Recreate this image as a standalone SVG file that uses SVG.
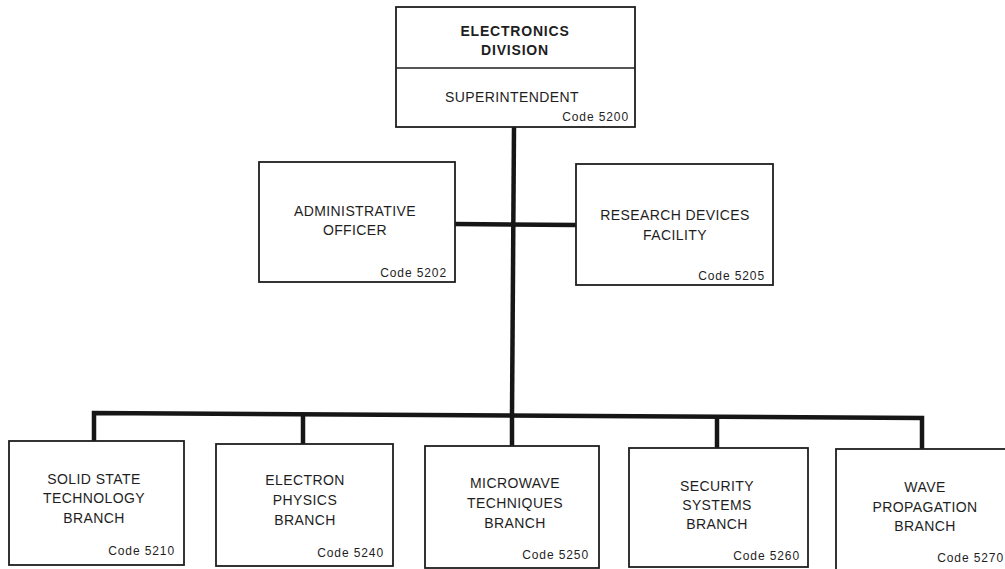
<svg xmlns="http://www.w3.org/2000/svg" width="1005" height="569" viewBox="0 0 1005 569">
<style>
.box{fill:#fff;stroke:#1e1e1e;stroke-width:1.8}
.lbl{font-family:"Liberation Sans",Arial,sans-serif;font-size:14px;fill:#1e1e1e;text-anchor:middle;letter-spacing:0.4px}
.ttl{font-family:"Liberation Sans",Arial,sans-serif;font-size:14px;font-weight:bold;fill:#1e1e1e;text-anchor:middle;letter-spacing:0.8px}
.code{font-family:"Liberation Sans",Arial,sans-serif;font-size:12px;fill:#1e1e1e;text-anchor:end;letter-spacing:0.9px}
.conn{fill:none;stroke:#161616;stroke-width:4.5;stroke-linejoin:miter}
</style>
<rect width="1005" height="569" fill="#fff"/>
<g id="connectors">
<path class="conn" d="M514,127 L512,415"/>
<path class="conn" d="M455,224 L576,225"/>
<path class="conn" d="M94,442 V413 L922,418 V449"/>
<path class="conn" d="M303,414 V444"/>
<path class="conn" d="M717,417 V448"/>
<path class="conn" d="M512,415 V446"/>
</g>
<g id="division">
<rect class="box" x="396" y="7" width="239" height="120"/>
<line x1="396" y1="68" x2="635" y2="68" stroke="#1e1e1e" stroke-width="1.4"/>
<text class="ttl" x="515" y="36">ELECTRONICS</text>
<text class="ttl" x="515" y="55">DIVISION</text>
<text class="lbl" x="512" y="102">SUPERINTENDENT</text>
<text class="code" x="629" y="121">Code 5200</text>
</g>
<g id="admin">
<rect class="box" x="259" y="162" width="196" height="120"/>
<text class="lbl" x="355" y="216">ADMINISTRATIVE</text>
<text class="lbl" x="355" y="235">OFFICER</text>
<text class="code" x="447" y="277">Code 5202</text>
</g>
<g id="research">
<rect class="box" x="576" y="164" width="197" height="121"/>
<text class="lbl" x="675" y="220">RESEARCH DEVICES</text>
<text class="lbl" x="675" y="240">FACILITY</text>
<text class="code" x="765" y="280">Code 5205</text>
</g>
<g id="solidstate">
<rect class="box" x="9" y="441" width="175" height="124"/>
<text class="lbl" x="94" y="484">SOLID STATE</text>
<text class="lbl" x="94" y="503">TECHNOLOGY</text>
<text class="lbl" x="94" y="523">BRANCH</text>
<text class="code" x="175" y="555">Code 5210</text>
</g>
<g id="electron">
<rect class="box" x="216" y="444" width="177" height="122"/>
<text class="lbl" x="305" y="485">ELECTRON</text>
<text class="lbl" x="305" y="505">PHYSICS</text>
<text class="lbl" x="305" y="525">BRANCH</text>
<text class="code" x="384" y="557">Code 5240</text>
</g>
<g id="microwave">
<rect class="box" x="425" y="446" width="174" height="122"/>
<text class="lbl" x="515" y="488">MICROWAVE</text>
<text class="lbl" x="515" y="508">TECHNIQUES</text>
<text class="lbl" x="515" y="528">BRANCH</text>
<text class="code" x="589" y="559">Code 5250</text>
</g>
<g id="security">
<rect class="box" x="629" y="448" width="179" height="119"/>
<text class="lbl" x="717" y="491">SECURITY</text>
<text class="lbl" x="717" y="510">SYSTEMS</text>
<text class="lbl" x="717" y="529">BRANCH</text>
<text class="code" x="800" y="560">Code 5260</text>
</g>
<g id="wave">
<rect class="box" x="836" y="449" width="172" height="124"/>
<text class="lbl" x="925" y="492">WAVE</text>
<text class="lbl" x="925" y="512">PROPAGATION</text>
<text class="lbl" x="925" y="531">BRANCH</text>
<text class="code" x="1004" y="562">Code 5270</text>
</g>
</svg>
